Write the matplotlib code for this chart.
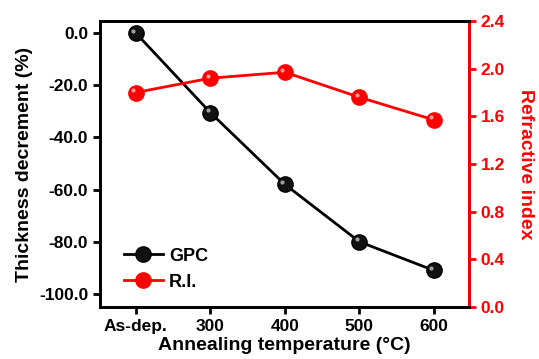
import matplotlib.pyplot as plt
from matplotlib.transforms import offset_copy

plt.rcParams['font.family'] = ['Liberation Sans', 'DejaVu Sans']
plt.rcParams['font.weight'] = 'bold'

temps = ['As-dep.', '300', '400', '500', '600']
gpc = [0.0, -30.5, -58.0, -80.0, -91.0]
ri = [1.80, 1.92, 1.97, 1.76, 1.57]

x = list(range(len(temps)))

fig = plt.figure(figsize=(5.39, 3.59), dpi=100)
ax = fig.add_axes([100 / 539, 1 - 307 / 359, 369 / 539, 286 / 359])
ax2 = ax.twinx()

l1, = ax.plot(x, gpc, '-o', color='black', lw=2, ms=11, mfc='#111111', mec='black', label='GPC')
l2, = ax2.plot(x, ri, '-o', color='red', lw=2, ms=11, mfc='red', mec='red', label='R.I.')

# sphere highlight
for a, ys in ((ax, gpc), (ax2, ri)):
    tr = offset_copy(a.transData, fig=fig, x=-1.8, y=1.8, units='points')
    a.plot(x, ys, 'o', color='white', ms=3, alpha=0.6, transform=tr, mew=0)

ax.set_xlim(-0.48, 4.47)
ax.set_ylim(-105, 4.6)
ax2.set_ylim(0, 2.4)

ax.set_xticks(x)
ax.set_xticklabels(temps)
ax.set_yticks([0, -20, -40, -60, -80, -100])
ax.set_yticklabels(['0.0', '-20.0', '-40.0', '-60.0', '-80.0', '-100.0'])
ax2.set_yticks([0, 0.4, 0.8, 1.2, 1.6, 2.0, 2.4])
ax2.set_yticklabels(['0.0', '0.4', '0.8', '1.2', '1.6', '2.0', '2.4'])

for s in ax.spines.values():
    s.set_linewidth(2)
for s in ax2.spines.values():
    s.set_linewidth(2)
ax2.spines['right'].set_color('red')

ax.tick_params(axis='both', direction='out', length=5, width=2, labelsize=12.5)
ax2.tick_params(axis='y', direction='out', length=5, width=2, colors='red', labelsize=12.5)

ax.set_xlabel('Annealing temperature (°C)', fontsize=14, fontweight='bold', labelpad=2)
ax.set_ylabel('Thickness decrement (%)', fontsize=14, fontweight='bold', labelpad=4)
ax2.set_ylabel('Refractive index', fontsize=14, fontweight='bold', color='red', rotation=270, labelpad=21)

leg = ax.legend([l1, l2], ['GPC', 'R.I.'], loc='lower left', bbox_to_anchor=(0.02, 0.0),
                frameon=False, fontsize=13, handlelength=2.2, handletextpad=0.3)

fig.savefig('out.png', dpi=100)
